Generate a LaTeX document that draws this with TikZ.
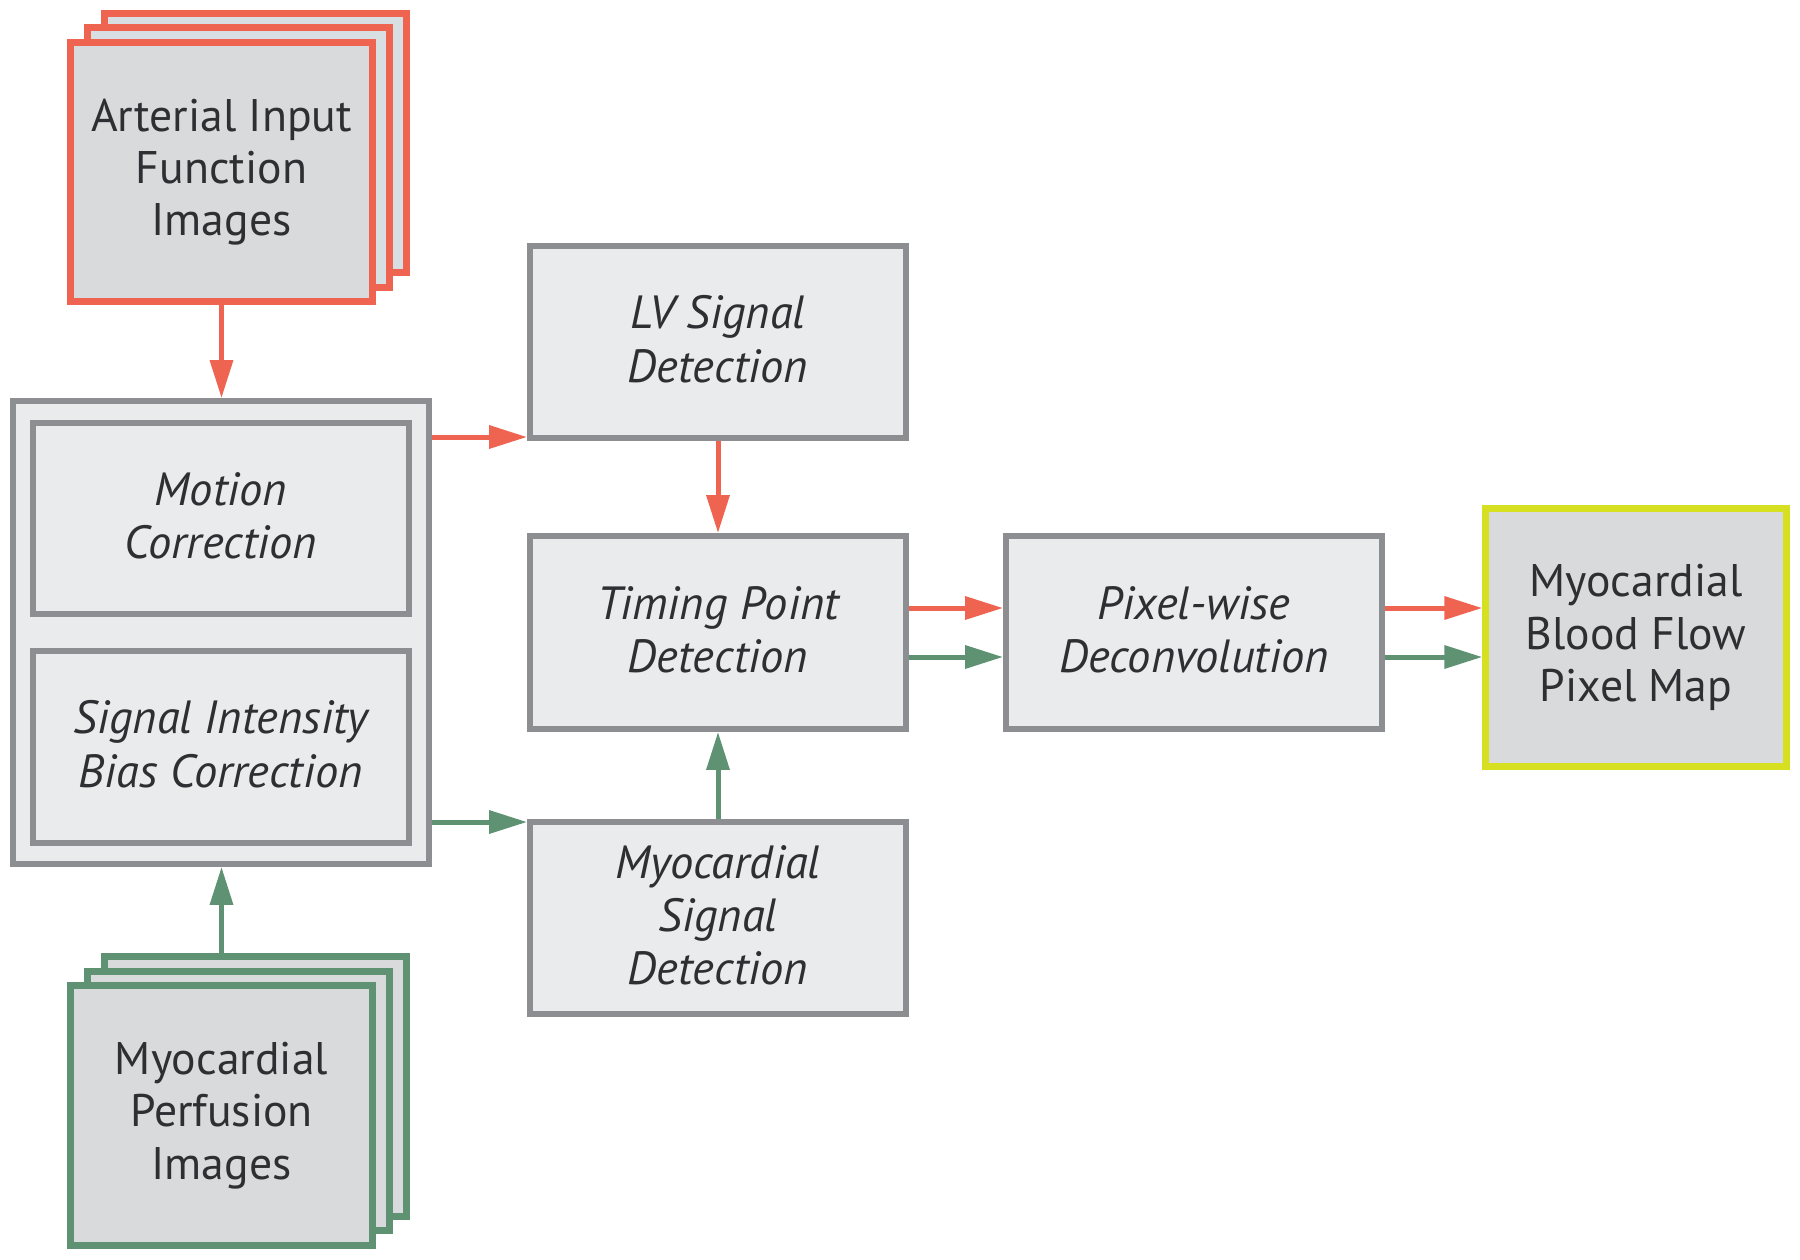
\documentclass[tikz,border=0pt]{standalone}
\usepackage{fontspec}
\setmainfont{PT Sans}
\usetikzlibrary{arrows.meta,calc}
\definecolor{cred}{HTML}{EF6450}
\definecolor{cgreen}{HTML}{5E9272}
\definecolor{cgray}{HTML}{8D8E92}
\definecolor{cfill}{HTML}{EAEBED}
\definecolor{cdark}{HTML}{D9DADC}
\definecolor{cblue}{HTML}{D8DFE2}
\definecolor{cyel}{HTML}{D6E021}
\definecolor{ctext}{HTML}{2E2F33}
\begin{document}
\begin{tikzpicture}[x=0.02cm,y=-0.02cm,
  txt/.style={text=ctext, align=center, font=\fontsize{26}{29.8}\selectfont},
  box/.style={txt, draw=cgray, fill=cfill, line width=0.12cm, inner sep=0pt, text depth=3.5pt, font=\fontsize{26.5}{30.4}\selectfont\itshape},
  sheet/.style={draw=#1, line width=0.14cm, inner sep=0pt, minimum width=6.06cm, minimum height=5.2cm},
  imgbox/.style={txt, sheet=#1, fill=cdark},
  arr/.style={line width=0.1cm, -{Triangle[length=0.76cm,width=0.45cm]}},
  ared/.style={arr, draw=cred, fill=cred},
  agreen/.style={arr, draw=cgreen, fill=cgreen}
]
\useasboundingbox (0,0) rectangle (1800,1259);

% AIF stack
\node[sheet=cred, fill=cblue] (aifb) at (255.5,143) {};
\node[sheet=cred, fill=cblue] (aifm) at (238.5,157.5) {};
\node[imgbox=cred] (aif) at (221.5,172) {Arterial Input\\Function\\Images};

% MPI stack
\node[sheet=cgreen, fill=cdark] (mpib) at (255.5,1086.5) {};
\node[sheet=cgreen, fill=cdark] (mpim) at (238.5,1101) {};
\node[imgbox=cgreen] (mpi) at (221.5,1115.5) {Myocardial\\Perfusion\\Images};

% Correction group
\node[box, minimum width=8.32cm, minimum height=9.26cm] (outer) at (221,632.5) {};
\node[box, minimum width=7.52cm, minimum height=3.82cm] (motion) at (221,518.5) {Motion\\Correction};
\node[box, minimum width=7.52cm, minimum height=3.84cm] (sibc) at (221,747) {Signal Intensity\\Bias Correction};

% Middle column
\node[box, minimum width=7.52cm, minimum height=3.84cm] (lv) at (718,342) {LV Signal\\Detection};
\node[box, minimum width=7.52cm, minimum height=3.86cm] (timing) at (718,632.5) {Timing Point\\Detection};
\node[box, minimum width=7.52cm, minimum height=3.84cm] (msd) at (718,918) {Myocardial\\Signal\\Detection};

\node[box, minimum width=7.52cm, minimum height=3.86cm] (pix) at (1194,632.5) {Pixel-wise\\Deconvolution};
\node[imgbox=cyel, minimum width=6.01cm, minimum height=5.18cm] (map) at (1636,637.5) {Myocardial\\Blood Flow\\Pixel Map};

% connector levels
\coordinate (r1) at (0,437);
\coordinate (g1) at (0,822);
\coordinate (r2) at (0,608);
\coordinate (g2) at (0,657);

\draw[ared] (aif.south) -- (aif.south |- outer.north);
\draw[agreen] (mpi.north |- mpib.north) -- (mpi.north |- outer.south);
\draw[ared] (outer.east |- r1) -- (lv.west |- r1);
\draw[agreen] (outer.east |- g1) -- (msd.west |- g1);
\draw[ared] (lv.south) -- (timing.north);
\draw[agreen] (msd.north) -- (timing.south);
\draw[ared] (timing.east |- r2) -- (pix.west |- r2);
\draw[agreen] (timing.east |- g2) -- (pix.west |- g2);
\draw[ared] (pix.east |- r2) -- (map.west |- r2);
\draw[agreen] (pix.east |- g2) -- (map.west |- g2);
\end{tikzpicture}
\end{document}
